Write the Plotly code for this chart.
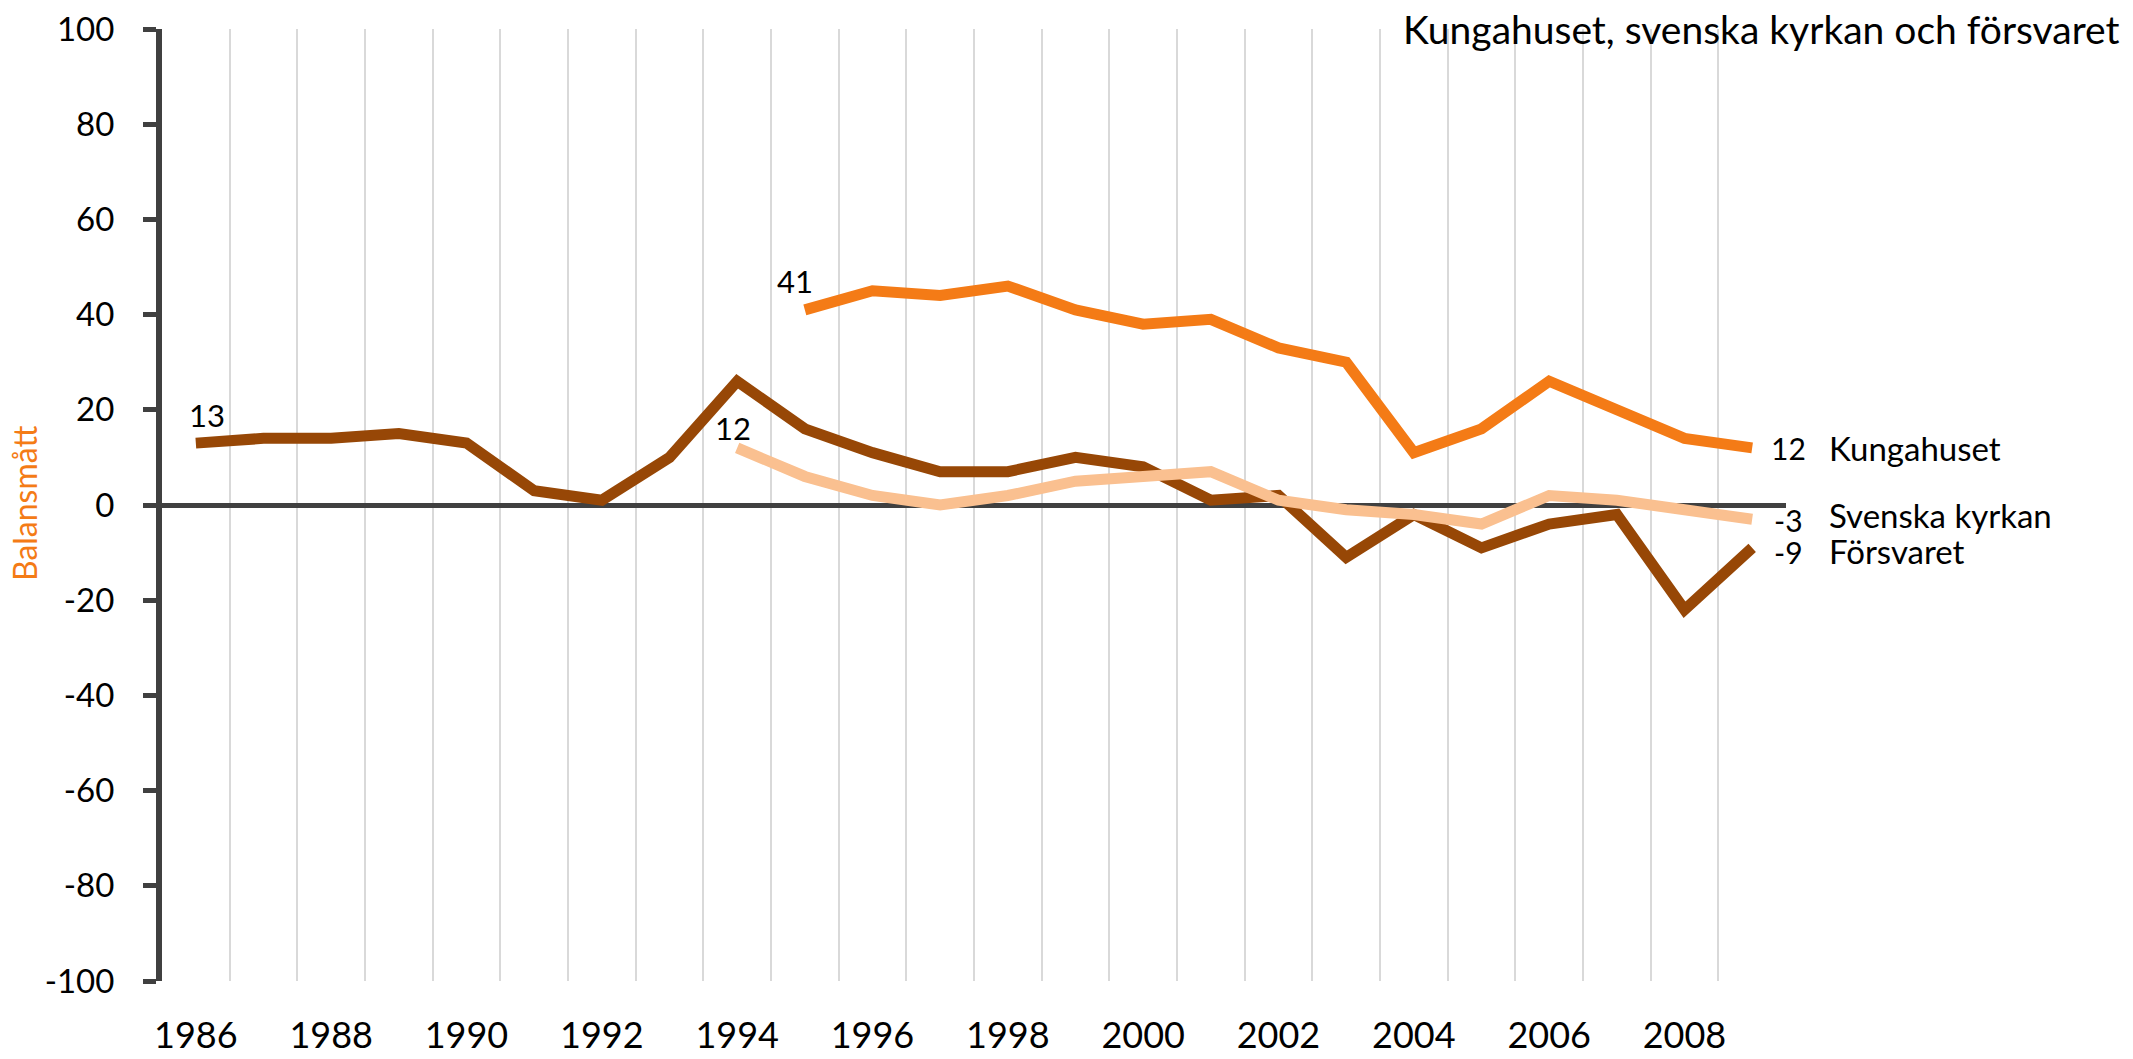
import plotly.graph_objects as go

years = list(range(1986, 2010))
forsvaret = [13, 14, 14, 15, 13, 3, 1, 10, 26, 16, 11, 7, 7, 10, 8, 1, 2, -11, -2, -9, -4, -2, -22, -9]
kungahuset = [None]*9 + [41, 45, 44, 46, 41, 38, 39, 33, 30, 11, 16, 26, 20, 14, 12]
svenska_kyrkan = [None]*8 + [12, 6, 2, 0, 2, 5, 6, 7, 1, -1, -2, -4, 2, 1, -1, -3]

series_names = ["Försvaret", "Kungahuset", "Svenska kyrkan"]
colors = {"Försvaret": "#974706", "Kungahuset": "#F47B16", "Svenska kyrkan": "#FAC090"}
data = {"Försvaret": forsvaret, "Kungahuset": kungahuset, "Svenska kyrkan": svenska_kyrkan}

title_text = "Kungahuset, svenska kyrkan och försvaret"
ytitle = "Balansmått"
xtick_vals = list(range(1986, 2010, 2))
ytick_vals = list(range(-100, 101, 20))
ytick_text = [str(v) for v in ytick_vals]

FONT = "Lato"

fig = go.Figure()
for name in series_names:
    fig.add_trace(go.Scatter(x=years, y=data[name], mode="lines", name=name,
                             line=dict(color=colors[name], width=11), connectgaps=False,
                             showlegend=False))

def first_point(vals):
    for y, v in zip(years, vals):
        if v is not None:
            return y, v

annots = []
# start labels
for name, dx, dy in [("Försvaret", 11, 28), ("Svenska kyrkan", -4, 20), ("Kungahuset", -10, 29)]:
    y0, v0 = first_point(data[name])
    annots.append(dict(x=y0, y=v0, xref="x", yref="y", text=str(v0), showarrow=False,
                       xshift=dx, yshift=dy, font=dict(family=FONT, size=31, color="black")))
# end labels
for name, vdy, ndy in [("Kungahuset", 0, 0), ("Svenska kyrkan", -1, 4), ("Försvaret", -4, -3)]:
    v = data[name][-1]
    annots.append(dict(x=years[-1], y=v, xref="x", yref="y", text=str(v), showarrow=False,
                       xshift=36, yshift=vdy, xanchor="center", borderpad=0,
                       font=dict(family=FONT, size=30, color="black")))
    annots.append(dict(x=years[-1], y=v, xref="x", yref="y", text=name, showarrow=False,
                       xshift=76, yshift=ndy, xanchor="left", borderpad=0,
                       font=dict(family=FONT, size=33, color="black")))
# title
annots.append(dict(x=1.207, y=1.0, xref="paper", yref="paper", text=title_text, showarrow=False,
                   xanchor="right", yanchor="middle", font=dict(family=FONT, size=39, color="black")))
# y axis title
annots.append(dict(x=-0.085, y=0.502, xref="paper", yref="paper", text=ytitle, showarrow=False,
                   textangle=-90, xanchor="center", yanchor="middle",
                   font=dict(family=FONT, size=32, color="#F47B16")))

shapes = [dict(type="rect", xref="paper", yref="paper", x0=0.729, x1=1.02, y0=0.949, y1=1.02,
               fillcolor="white", line=dict(width=0), layer="between")]

fig.update_layout(
    width=2133, height=1059,
    margin=dict(l=162, r=347, t=29, b=78, autoexpand=False),
    plot_bgcolor="white", paper_bgcolor="white",
    annotations=annots, shapes=shapes,
    xaxis=dict(range=[1985.5, 2009.5], tickvals=xtick_vals, showgrid=False, zeroline=False,
               showline=False, ticks="", ticklabelstandoff=30, automargin=False,
               tickfont=dict(family=FONT, size=36, color="black"),
               minor=dict(tick0=1985.5, dtick=1, showgrid=True, gridcolor="#D9D9D9", gridwidth=2)),
    yaxis=dict(range=[-100, 100], tickvals=ytick_vals, ticktext=ytick_text, showgrid=False,
               zeroline=True, zerolinecolor="#404040", zerolinewidth=5,
               showline=True, linecolor="#404040", linewidth=6, automargin=False,
               ticks="outside", ticklen=13, tickwidth=5, tickcolor="#404040",
               ticklabelstandoff=22,
               tickfont=dict(family=FONT, size=33, color="black")),
)

fig.write_html("out.html", config={"displayModeBar": False},
               post_script="document.body.style.margin='0';document.body.style.overflow='hidden';")
